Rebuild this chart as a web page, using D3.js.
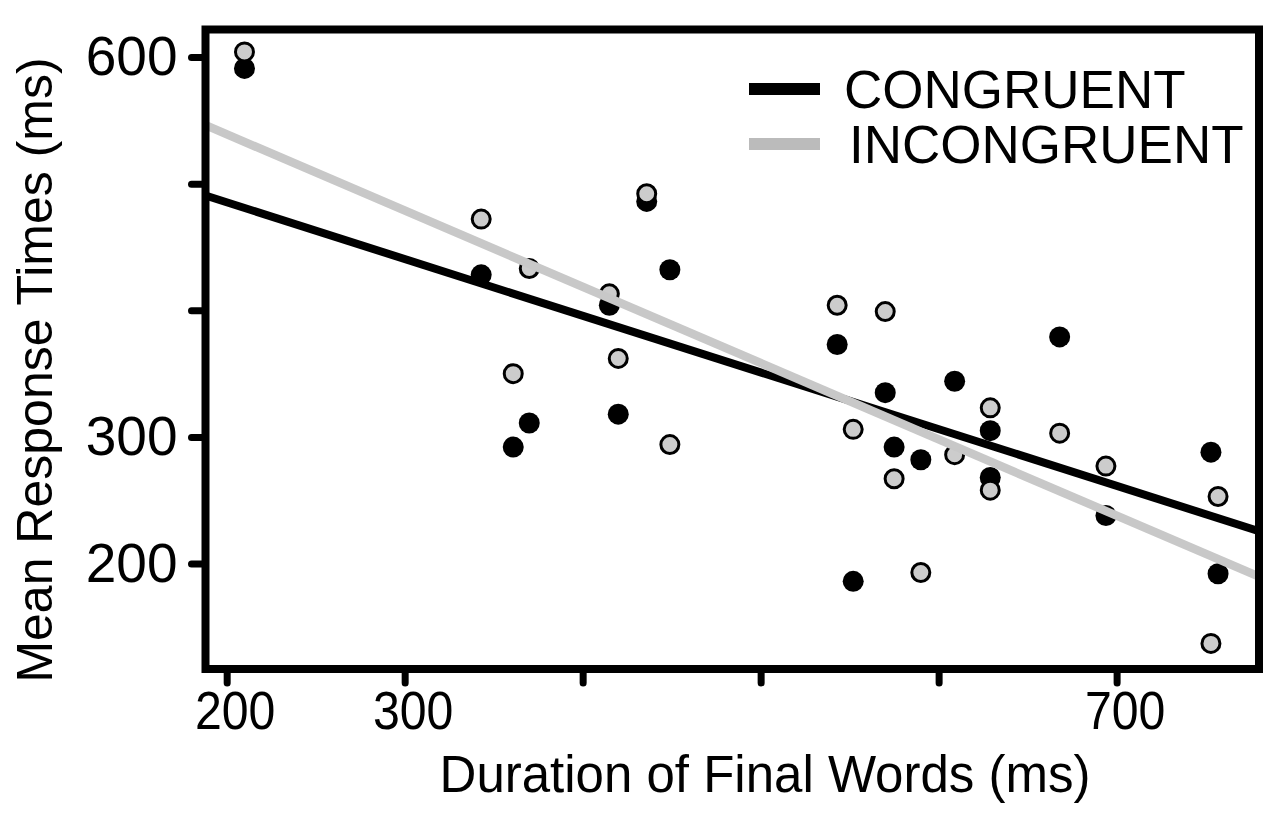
<!DOCTYPE html>
<html>
<head>
<meta charset="utf-8">
<script src="https://cdn.jsdelivr.net/npm/d3@7"></script>
<style>
  html, body { margin: 0; padding: 0; background: #fff; }
  svg { display: block; font-family: "Liberation Sans", Arial, sans-serif; }
</style>
</head>
<body>
<div id="chart-container"></div>
<script>
// Datos
const durations    = [210, 343, 370, 361, 415, 420, 436, 449, 543, 552, 570, 575, 590, 609, 629, 629, 668, 694, 753, 757];
const congruentRT  = [591, 428, 311, 292, 404, 318, 486, 432, 373, 186, 335, 292, 282, 344, 305, 268, 379, 238, 288, 192];
const incongruentRT = [604, 472, 433, 350, 413, 362, 492, 294, 404, 306, 399, 267, 193, 286, 323, 258, 303, 277, 137, 253];

// Rectas de regresión: [intercepto, pendiente]
const congruentFit   = [574.8, -0.4477];
const incongruentFit = [659.5, -0.6023];

const xTicks = [200, 300, 400, 500, 600, 700];
const xTickLabels = [200, 300, 700];
const yTicks = [200, 300, 400, 500, 600];
const yTickLabels = [200, 300, 600];

const seriesNames = ["CONGRUENT", "INCONGRUENT"];

const ChartApp = (() => {
    const config = {
        width: 1274,
        height: 814,
        margin: { top: 29.5, right: 15, bottom: 145, left: 205.5 },
        xDomain: [188.1, 780],
        yDomain: [116.8, 621.7],
        frameWidth: 8,
        pointRadius: 10.5,
        grayFill: "#cccccc",
        grayLine: "#c8c8c8",
        grayLegend: "#bbbbbb"
    };

    function init() {
        const m = config.margin;
        const innerW = config.width - m.left - m.right;
        const innerH = config.height - m.top - m.bottom;

        const svg = d3.select("#chart-container")
            .append("svg")
            .attr("width", config.width)
            .attr("height", config.height);

        const g = svg.append("g")
            .attr("transform", `translate(${m.left},${m.top})`);

        const x = d3.scaleLinear().domain(config.xDomain).range([0, innerW]);
        const y = d3.scaleLinear().domain(config.yDomain).range([innerH, 0]);

        g.append("clipPath").attr("id", "plot-clip")
            .append("rect")
            .attr("width", innerW)
            .attr("height", innerH);

        const plot = g.append("g").attr("clip-path", "url(#plot-clip)");

        const rows = durations.map((d, i) => ({ d, c: congruentRT[i], inc: incongruentRT[i] }));

        // Puntos congruentes (negros)
        plot.selectAll(".pt-c")
            .data(rows)
            .enter()
            .append("circle")
            .attr("class", "pt-c")
            .attr("cx", r => x(r.d))
            .attr("cy", r => y(r.c))
            .attr("r", config.pointRadius)
            .attr("fill", "#000");

        // Puntos incongruentes (grises con borde)
        plot.selectAll(".pt-i")
            .data(rows)
            .enter()
            .append("circle")
            .attr("class", "pt-i")
            .attr("cx", r => x(r.d))
            .attr("cy", r => y(r.inc))
            .attr("r", config.pointRadius - 1.5)
            .attr("fill", config.grayFill)
            .attr("stroke", "#000")
            .attr("stroke-width", 3);

        // Rectas de ajuste
        const line = d3.line().x(p => x(p[0])).y(p => y(p[1]));
        const fitPoints = fit => config.xDomain.map(v => [v, fit[0] + fit[1] * v]);

        plot.append("path")
            .attr("d", line(fitPoints(congruentFit)))
            .attr("fill", "none")
            .attr("stroke", "#000")
            .attr("stroke-width", 8);

        plot.append("path")
            .attr("d", line(fitPoints(incongruentFit)))
            .attr("fill", "none")
            .attr("stroke", config.grayLine)
            .attr("stroke-width", 8.5);

        // Marco
        g.append("rect")
            .attr("width", innerW)
            .attr("height", innerH)
            .attr("fill", "none")
            .attr("stroke", "#000")
            .attr("stroke-width", config.frameWidth);

        // Ejes
        const xAxis = d3.axisBottom(x)
            .tickValues(xTicks)
            .tickSize(14)
            .tickPadding(8)
            .tickFormat(v => xTickLabels.includes(v) ? v : "");

        const yAxis = d3.axisLeft(y)
            .tickValues(yTicks)
            .tickSize(14)
            .tickPadding(14)
            .tickFormat(v => yTickLabels.includes(v) ? v : "");

        const gx = g.append("g")
            .attr("transform", `translate(0,${innerH})`)
            .call(xAxis);

        const gy = g.append("g").call(yAxis);

        [gx, gy].forEach(ax => {
            ax.select(".domain").remove();
            ax.selectAll(".tick line")
                .attr("stroke", "#000")
                .attr("stroke-width", 7)
                .attr("stroke-linecap", "round");
            ax.selectAll(".tick text")
                .attr("fill", "#000")
                .style("font-family", "'Liberation Sans', Arial, sans-serif");
        });

        gx.selectAll(".tick text")
            .style("font-size", "53px")
            .attr("transform", "translate(8,0) scale(0.91,1)");

        gy.selectAll(".tick text")
            .style("font-size", "55px");

        // Títulos de ejes
        svg.append("text")
            .attr("x", 765)
            .attr("y", 792)
            .attr("text-anchor", "middle")
            .style("font-size", "51px")
            .text("Duration of Final Words (ms)");

        svg.append("text")
            .attr("transform", "translate(52,370) rotate(-90)")
            .attr("text-anchor", "middle")
            .style("font-size", "50px")
            .text("Mean Response Times (ms)");

        // Leyenda
        const legend = svg.append("g");
        const legendColors = ["#000", config.grayLegend];
        const legendRows = [89, 144];
        const legendTextX = [844, 849];

        seriesNames.forEach((name, i) => {
            legend.append("line")
                .attr("x1", 749)
                .attr("x2", 820)
                .attr("y1", legendRows[i])
                .attr("y2", legendRows[i])
                .attr("stroke", legendColors[i])
                .attr("stroke-width", 12);

            legend.append("text")
                .attr("x", legendTextX[i])
                .attr("y", legendRows[i] + 19)
                .style("font-size", "53px")
                .text(name);
        });
    }

    return { init };
})();

ChartApp.init();
</script>
</body>
</html>
